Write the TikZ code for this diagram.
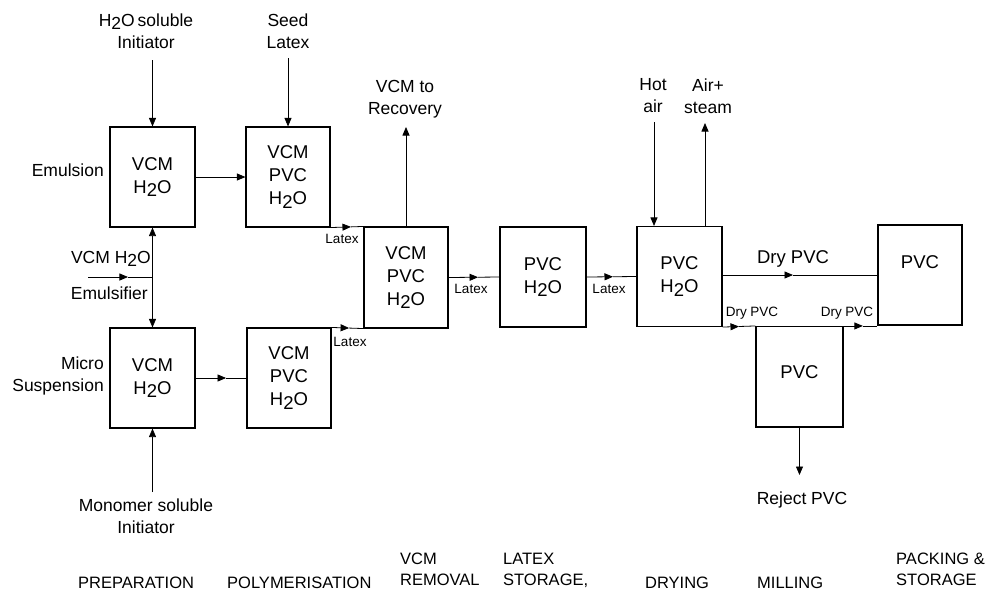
\documentclass[tikz,border=0pt]{standalone}
\usepackage{fontspec}
\setmainfont{Liberation Sans}
\usetikzlibrary{arrows.meta}
\newcommand{\HtwoO}{H\raisebox{-0.35ex}{2}O}
\begin{document}
\begin{tikzpicture}[x=1pt,y=-1pt,
  box/.style={draw, line width=1.1pt, inner sep=0pt, align=center, font=\fontsize{18.5}{23}\selectfont},
  lbl/.style={inner sep=0pt, align=center, font=\fontsize{17.5}{22}\selectfont},
  big/.style={inner sep=0pt, font=\fontsize{18.5}{22}\selectfont},
  stage/.style={inner sep=0pt, align=left, font=\fontsize{16.5}{21}\selectfont},
  small/.style={inner sep=0pt, font=\fontsize{13.5}{15}\selectfont},
  conn/.style={line width=0.8pt},
  arr/.style={conn, -{Triangle[length=8.5pt,width=7pt]}},
]
\useasboundingbox (0,0) rectangle (993,590);

% boxes
\node[box, minimum width=85pt, minimum height=100pt] (A) at (152.5,177) {VCM\\\HtwoO};
\node[box, minimum width=84pt, minimum height=100pt] (B) at (288,177) {VCM\\PVC\\\HtwoO};
\node[box, minimum width=85pt, minimum height=100pt] (C) at (152.5,378) {VCM\\\HtwoO};
\node[box, minimum width=84pt, minimum height=100pt] (D) at (289,378) {VCM\\PVC\\\HtwoO};
\node[box, minimum width=84pt, minimum height=101pt] (E) at (406,277.5) {VCM\\PVC\\\HtwoO};
\node[box, minimum width=86pt, minimum height=100pt] (F) at (543,277) {PVC\\\HtwoO};
\node[box, minimum width=85pt, minimum height=100pt] (G) at (679.5,276.5) {PVC\\\HtwoO};
\node[box, minimum width=84pt, minimum height=100pt] (H) at (920,275) {\raisebox{26pt}{PVC}};
\node[box, minimum width=87pt, minimum height=100.5pt] (M) at (799.5,376.75) {\raisebox{10pt}{PVC}};

% preparation inputs
\coordinate (iA) at (152.5,60);
\draw[arr] (iA) -- (A.north);
\node[lbl] (iAt) at (146,31) {\HtwoO\,soluble\\Initiator};
\coordinate (sB) at (288,58);
\draw[arr] (sB) -- (B.north);
\node[lbl] (sBt) at (288,31) {Seed\\Latex};

\draw[arr] (A.east) -- (B.west);

\coordinate (J) at (152.5,277);
\coordinate (feed) at (88,277);
\path (feed) -- (J) coordinate[pos=0.62] (feedm);
\draw[arr] (feed) -- (feedm);
\draw[conn] (feedm) -- (J);
\draw[arr] (J) -- (A.south);
\draw[arr] (J) -- (C.north);
\node[lbl, anchor=east] (feedt1) at (151,259) {VCM \HtwoO};
\node[lbl, anchor=east] (feedt2) at (148,293) {Emulsifier};
\node[lbl, anchor=east] (emt) at (104,170) {Emulsion};
\node[lbl, anchor=east, align=right] (mst) at (104,376) {Micro\\Suspension};

\coordinate (mi) at (152.5,492);
\draw[arr] (mi) -- (C.south);
\node[lbl] (mit) at (146,516) {Monomer soluble\\Initiator};

\path (C.east) -- (D.west) coordinate[pos=0.6] (cdm);
\draw[arr] (C.east) -- (cdm);
\draw[conn] (cdm) -- (D.west);

% to VCM removal
\path (B.south east) -- (E.north west) coordinate[pos=0.62] (bem);
\draw[arr] (B.south east) -- (bem);
\draw[conn] (bem) -- (E.north west);
\node[small] (l1) at (342,239) {Latex};
\path (D.north east) -- (E.south west) coordinate[pos=0.55] (dem);
\draw[arr] (D.north east) -- (dem);
\draw[conn] (dem) -- (E.south west);
\node[small] (l2) at (350,342) {Latex};

\path (E.east) -- (F.west) coordinate[pos=0.58] (efm);
\draw[arr] (E.east) -- (efm);
\draw[conn] (efm) -- (F.west);
\node[small] (l3) at (471,289) {Latex};
\path (F.east) -- (G.west) coordinate[pos=0.53] (fgm);
\draw[arr] (F.east) -- (fgm);
\draw[conn] (fgm) -- (G.west);
\node[small] (l4) at (609,289) {Latex};

\coordinate (rec) at (406,127);
\draw[arr] (E.north) -- (rec);
\node[lbl] (rect) at (405,99) {VCM to\\Recovery};

% drying
\coordinate (hot) at (654,122);
\draw[arr] (hot) -- (hot |- G.north);
\node[lbl] (hott) at (653,96) {Hot\\air};
\coordinate (stm) at (705,123);
\draw[arr] (stm |- G.north) -- (stm);
\node[lbl] (stmt) at (708,96) {Air+\\steam};

\path (G.east |- H.west) -- (H.west) coordinate[pos=0.455] (ghm);
\draw[arr] (G.east |- H.west) -- (ghm);
\draw[conn] (ghm) -- (H.west);
\node[big] (dp) at (793,259) {Dry PVC};

\path (G.south east) -- (M.north west) coordinate[pos=0.5] (gmm);
\draw[arr] (G.south east) -- (gmm);
\draw[conn] (gmm) -- (M.north west);
\node[small] (l5) at (752,313) {Dry PVC};
\path (M.north east) -- (M.north east -| H.west) coordinate[pos=0.57] (mhm);
\draw[arr] (M.north east) -- (mhm);
\draw[conn] (mhm) -- (M.north east -| H.west);
\node[small] (l6) at (847,313) {Dry PVC};

\coordinate (rej) at (799.5,475);
\draw[arr] (M.south) -- (rej);
\node[lbl] (rejt) at (802,500) {Reject PVC};

% stage labels
\node[stage, anchor=base west] (s1) at (78,588) {PREPARATION};
\node[stage, anchor=base west] (s2) at (227,588) {POLYMERISATION};
\node[stage, anchor=north west] (s3) at (400,553) {VCM\\REMOVAL};
\node[stage, anchor=north west] (s4) at (503,553) {LATEX\\STORAGE,};
\node[stage, anchor=base west] (s5) at (645,588) {DRYING};
\node[stage, anchor=base west] (s6) at (757,588) {MILLING};
\node[stage, anchor=north west] (s7) at (896,553) {PACKING \&\\STORAGE};
\end{tikzpicture}
\end{document}
